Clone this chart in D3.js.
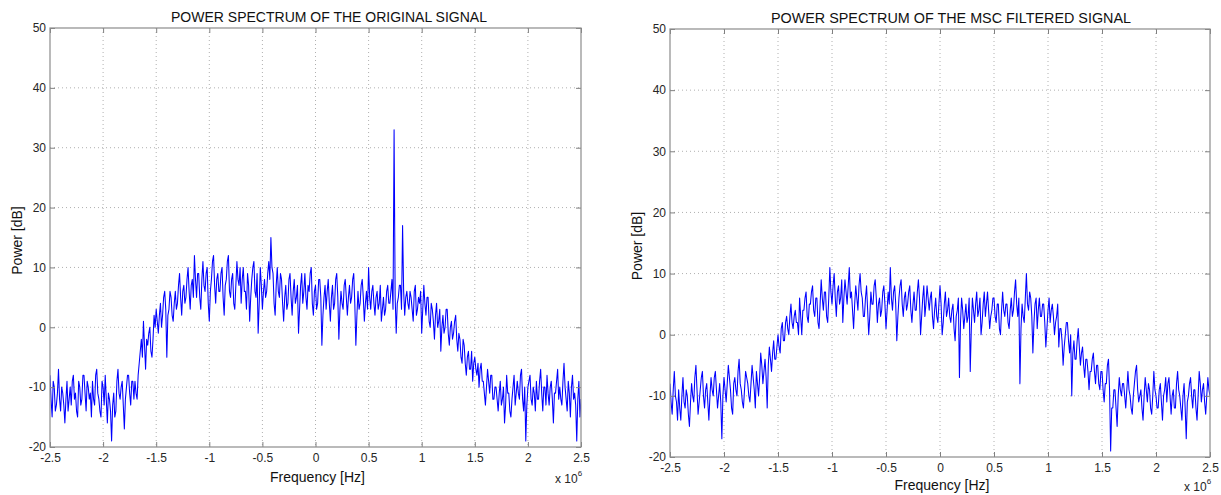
<!DOCTYPE html>
<html>
<head>
<meta charset="utf-8">
<script src="https://cdn.jsdelivr.net/npm/d3@7/dist/d3.min.js"></script>
<style>
  html, body { margin: 0; padding: 0; background: #fff; }
  svg { display: block; font-family: "Liberation Sans", Arial, Helvetica, sans-serif; }
</style>
</head>
<body>
<svg id="chart" width="1221" height="495"></svg>
<script>
// ---- data ----
const freqDomainMHz = [-2.5, 2.5];            // frequency span, x 10^6 Hz
const freqTicks = [-2.5, -2, -1.5, -1, -0.5, 0, 0.5, 1, 1.5, 2, 2.5];
const freqTickLabels = ["-2.5", "-2", "-1.5", "-1", "-0.5", "0", "0.5", "1", "1.5", "2", "2.5"];
const powerTicks = [-20, -10, 0, 10, 20, 30, 40, 50];
const powerTickLabels = ["-20", "-10", "0", "10", "20", "30", "40", "50"];
const titles = ["POWER SPECTRUM OF THE ORIGINAL SIGNAL", "POWER SPECTRUM OF THE MSC FILTERED SIGNAL"];
const xLabel = "Frequency [Hz]";
const yLabel = "Power [dB]";

// Original signal power (dB), 501 bins evenly spread over -2.5..2.5 MHz (20 bins per row = 0.2 MHz)
const originalPower = [
  -8,-12,-15,-9,-10,-14,-13,-11,-7,-12,-14,-10,-11,-13,-16,-12,-9,-14,-12,-10,
  -13,-9,-8,-12,-11,-14,-15,-9,-10,-13,-12,-8,-8,-11,-14,-9,-10,-12,-11,-15,
  -9,-12,-13,-8,-7,-11,-12,-14,-15,-9,-10,-13,-8,-12,-16,-11,-12,-14,-19,-13,
  -11,-15,-14,-9,-7,-11,-12,-10,-9,-13,-17,-12,-10,-8,-8,-11,-13,-9,-9,-12,
  -9,-11,-12,-8,-6,-4,-2,-5,1,-3,-7,-2,-3,-1,0,-4,-5,-2,2,0,
  3,1,-1,2,4,0,2,5,6,3,-5,2,3,6,5,2,1,4,6,3,
  4,7,9,5,2,6,7,4,5,8,10,6,3,7,8,5,12,8,5,9,
  9,5,3,8,11,7,6,9,10,4,1,6,8,11,12,7,4,8,9,6,
  6,9,10,5,2,7,8,11,12,6,5,8,9,4,3,7,11,8,7,10,
  4,8,10,6,6,3,9,7,1,5,8,10,11,6,5,9,-1,4,10,7,
  3,6,8,5,6,9,11,8,15,10,9,4,2,7,10,6,5,9,8,4,
  1,5,7,3,4,8,9,5,2,6,8,4,5,7,-1,3,7,9,4,6,
  9,5,3,7,6,9,10,4,2,6,7,3,4,8,8,5,-3,2,5,7,
  3,6,8,4,1,5,7,3,4,8,9,5,-2,3,6,4,3,7,8,5,
  2,5,7,4,5,8,9,4,-3,2,6,3,4,7,8,5,1,4,6,3,
  10,5,3,6,7,4,2,5,6,3,4,7,1,3,5,2,3,6,7,4,
  4,6,8,3,33,5,-1,4,5,7,7,3,17,6,2,5,6,4,3,6,
  5,3,1,6,7,2,3,5,4,6,-1,3,7,4,2,5,5,1,0,4,
  3,1,-2,2,4,0,1,3,-4,0,2,-1,0,3,3,-1,-3,0,1,-2,
  -1,1,2,-2,-4,-1,-2,-5,-6,-2,-3,-6,-8,-5,-4,-7,-7,-4,-9,-6,
  -5,-7,-8,-6,-10,-7,-6,-9,-9,-11,-13,-10,-7,-9,-11,-8,-8,-12,-12,-10,
  -10,-12,-14,-11,-9,-13,-12,-10,-16,-13,-8,-11,-11,-14,-15,-12,-10,-8,-13,-11,
  -9,-11,-12,-8,-7,-12,-14,-10,-19,-13,-10,-9,-8,-12,-13,-10,-11,-14,-9,-12,
  -12,-9,-7,-11,-14,-10,-10,-13,-8,-11,-13,-10,-9,-12,-16,-11,-11,-9,-7,-12,
  -10,-12,-13,-9,-6,-10,-12,-14,-9,-11,-15,-10,-8,-12,-11,-13,-19,-12,-9,-15,
  -12
];

// MSC filtered signal power (dB), 501 bins evenly spread over -2.5..2.5 MHz
const mscPower = [
  -8,-11,-13,-9,-6,-10,-11,-14,-9,-12,-14,-10,-7,-11,-12,-9,-10,-13,-15,-11,
  -8,-10,-11,-7,-5,-9,-13,-11,-9,-7,-6,-10,-12,-9,-8,-11,-14,-10,-7,-9,
  -10,-7,-6,-9,-12,-10,-8,-11,-17,-10,-7,-9,-11,-8,-5,-7,-9,-12,-13,-8,
  -7,-9,-10,-6,-4,-8,-9,-11,-12,-9,-6,-7,-8,-10,-11,-8,-5,-7,-9,-12,
  -6,-8,-10,-7,-3,-5,-8,-6,-4,-7,-12,-5,-2,-4,-6,-3,-1,-4,-4,-2,
  0,-2,-3,1,2,-1,-1,2,3,1,0,3,5,2,1,3,4,2,2,0,
  6,3,0,4,4,6,7,3,2,5,5,7,8,4,3,6,6,2,1,5,
  9,6,4,7,7,3,2,6,11,7,5,8,10,6,3,7,8,5,6,9,
  2,6,9,7,5,8,11,6,7,4,1,5,8,6,4,8,10,7,6,3,
  3,6,8,4,0,3,7,5,5,8,9,6,2,5,6,3,4,7,8,5,
  1,4,7,5,11,6,4,7,8,5,-1,3,6,8,9,5,3,6,7,4,
  5,7,8,4,2,5,7,4,4,7,9,6,0,3,6,8,3,5,8,6,
  4,6,7,3,1,4,6,3,2,5,8,5,0,2,5,7,3,4,6,3,
  2,4,5,1,-1,3,4,6,-7,2,6,4,1,3,5,2,3,6,-6,1,
  6,4,2,5,7,3,4,6,0,2,5,7,3,5,7,4,1,3,4,6,
  6,3,2,5,5,1,0,4,7,4,3,5,5,2,1,4,6,3,4,7,
  9,5,3,6,-8,1,5,3,2,6,10,5,4,7,6,3,-3,2,5,6,
  1,4,6,3,3,5,5,2,-2,1,4,6,2,4,5,3,0,2,3,5,
  -2,1,1,-1,-5,-2,0,2,2,-1,-3,0,-10,-3,-1,-4,-4,-1,1,-2,
  -5,-3,-2,-5,-7,-4,-4,-6,-9,-6,-6,-4,-3,-6,-8,-5,-5,-8,-9,-6,
  -6,-9,-11,-8,-8,-5,-4,-9,-19,-12,-12,-9,-9,-12,-15,-10,-7,-9,-10,-8,
  -8,-10,-12,-9,-6,-9,-10,-12,-13,-10,-8,-6,-5,-9,-11,-10,-9,-12,-14,-10,
  -7,-9,-11,-8,-9,-12,-13,-10,-6,-9,-10,-12,-12,-9,-8,-11,-14,-10,-9,-7,
  -11,-8,-7,-10,-13,-10,-9,-12,-12,-8,-6,-9,-10,-12,-14,-10,-8,-12,-17,-11,
  -10,-8,-7,-10,-12,-9,-9,-12,-14,-10,-6,-8,-11,-9,-8,-11,-13,-10,-7,-9,
  -10
];

// ---- layout ----
const panels = [
  { data: originalPower, title: titles[0], left: 50, right: 581, top: 28, bottom: 447,
    titleX: 329, titleY: 22, titleLen: 316, yLabX: 22, xLabY: 482, expY: 483 },
  { data: mscPower, title: titles[1], left: 670, right: 1210, top: 29, bottom: 457,
    titleX: 951, titleY: 23, titleLen: 360, yLabX: 642, xLabY: 490, expY: 491 }
];

const svg = d3.select("#chart");
const blue = "#0000ff";

panels.forEach((p, pi) => {
  const x = d3.scaleLinear().domain(freqDomainMHz).range([p.left, p.right]);
  const y = d3.scaleLinear().domain([-20, 50]).range([p.bottom, p.top]);
  const binToFreq = d3.scaleLinear().domain([0, p.data.length - 1]).range(freqDomainMHz);
  const g = svg.append("g");

  // grid
  g.append("g").selectAll("line").data(freqTicks.slice(1, -1)).join("line")
    .attr("x1", d => x(d)).attr("x2", d => x(d)).attr("y1", p.top).attr("y2", p.bottom)
    .attr("stroke", "#b0b0b0").attr("stroke-width", 1).attr("stroke-dasharray", "1,3");
  g.append("g").selectAll("line").data(powerTicks.slice(1, -1)).join("line")
    .attr("y1", d => y(d)).attr("y2", d => y(d)).attr("x1", p.left).attr("x2", p.right)
    .attr("stroke", "#b0b0b0").attr("stroke-width", 1).attr("stroke-dasharray", "1,3");

  // series
  const clipId = "clip" + pi;
  svg.append("clipPath").attr("id", clipId).append("rect")
    .attr("x", p.left).attr("y", p.top).attr("width", p.right - p.left).attr("height", p.bottom - p.top);
  const line = d3.line().x((d, i) => x(binToFreq(i))).y(d => y(d));
  g.append("path").datum(p.data).attr("d", line)
    .attr("clip-path", `url(#${clipId})`)
    .attr("fill", "none").attr("stroke", blue).attr("stroke-width", 1.05)
    .attr("stroke-linejoin", "round");

  // axes (ticks inward on all four sides)
  const fmtX = (d, i) => freqTickLabels[i];
  const fmtY = (d, i) => powerTickLabels[i];
  const axB = g.append("g").attr("transform", `translate(0,${p.bottom})`)
    .call(d3.axisBottom(x).tickValues(freqTicks).tickFormat(fmtX).tickSize(-5).tickPadding(6));
  const axT = g.append("g").attr("transform", `translate(0,${p.top})`)
    .call(d3.axisTop(x).tickValues(freqTicks).tickFormat("").tickSize(-5));
  const axL = g.append("g").attr("transform", `translate(${p.left},0)`)
    .call(d3.axisLeft(y).tickValues(powerTicks).tickFormat(fmtY).tickSize(-5).tickPadding(4));
  const axR = g.append("g").attr("transform", `translate(${p.right},0)`)
    .call(d3.axisRight(y).tickValues(powerTicks).tickFormat("").tickSize(-5));
  [axB, axT, axL, axR].forEach(a => {
    a.select(".domain").remove();
    a.selectAll(".tick line").attr("stroke", "#808080");
    a.selectAll("text").attr("font-size", 12).attr("fill", "#262626")
      .attr("font-family", '"Liberation Sans", Arial, sans-serif');
  });

  // frame
  g.append("rect").attr("x", p.left).attr("y", p.top)
    .attr("width", p.right - p.left).attr("height", p.bottom - p.top)
    .attr("fill", "none").attr("stroke", "#8c8c8c").attr("stroke-width", 1.2);

  // title
  g.append("text").attr("x", p.titleX).attr("y", p.titleY).attr("text-anchor", "middle")
    .attr("font-size", 14).attr("fill", "#111")
    .attr("textLength", p.titleLen).attr("lengthAdjust", "spacingAndGlyphs")
    .text(p.title);

  // axis labels
  g.append("text").attr("x", (p.left + p.right) / 2 + 2).attr("y", p.xLabY).attr("text-anchor", "middle")
    .attr("font-size", 14).attr("fill", "#111").text(xLabel);
  g.append("text").attr("transform", `translate(${p.yLabX},${(p.top + p.bottom) / 2 + 3}) rotate(-90)`)
    .attr("text-anchor", "middle").attr("font-size", 14).attr("fill", "#111").text(yLabel);

  // exponent label
  const ex = g.append("text").attr("x", p.right - 26).attr("y", p.expY)
    .attr("font-size", 12).attr("fill", "#262626");
  ex.append("tspan").text("x 10");
  ex.append("tspan").attr("font-size", 8).attr("dy", -7).text("6");
});
</script>
</body>
</html>
